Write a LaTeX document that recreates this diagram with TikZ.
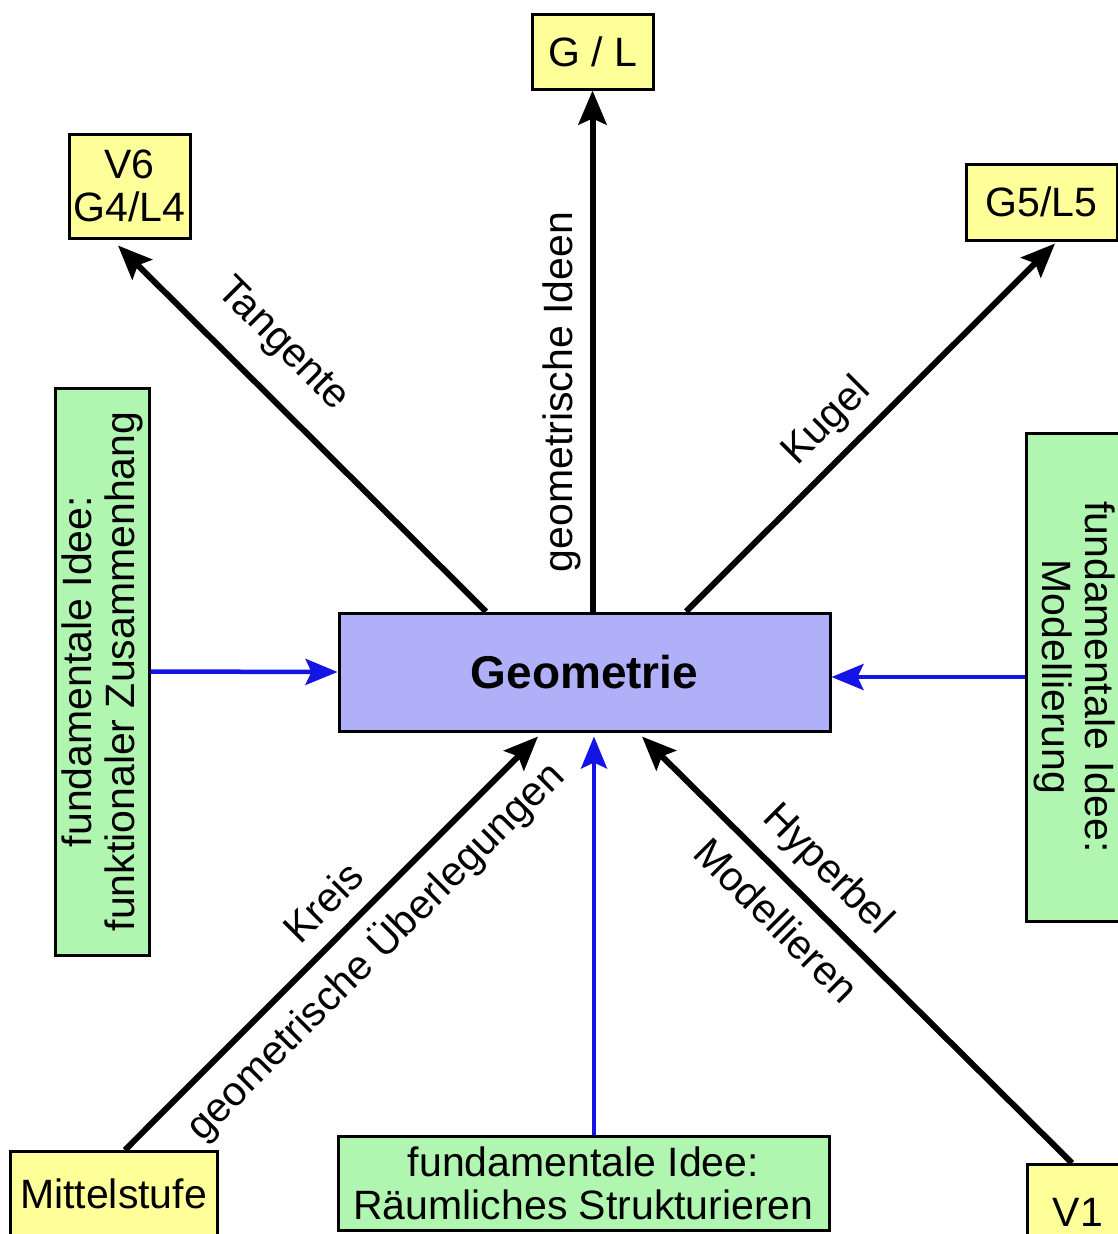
\documentclass[tikz,border=0pt]{standalone}
\usepackage{fontspec}
\setmainfont{Liberation Sans}
\usetikzlibrary{arrows.meta,calc}
\definecolor{yel}{HTML}{FFFF99}
\definecolor{grn}{HTML}{B0F5B0}
\definecolor{vio}{HTML}{B0B0F8}
\definecolor{blu}{HTML}{1414E6}
\begin{document}
\begin{tikzpicture}[x=1pt,y=1pt,
  every node/.style={font=\fontsize{41}{43}\selectfont, inner sep=0pt},
  ybox/.style={draw, line width=3pt, fill=yel},
  grbox/.style={draw, line width=3pt, fill=grn, align=center},
  geobox/.style={draw, line width=3pt, fill=vio, font=\fontsize{46}{50}\selectfont\bfseries},
  blk/.style={line width=6pt, -{Stealth[length=34pt,width=28pt,inset=6pt]}},
  bluarr/.style={blu, line width=4.5pt, -{Stealth[length=32pt,width=26pt,inset=6pt]}}]
\useasboundingbox (0,0) rectangle (1118,-1234);
\fill[white] (0,0) rectangle (1118,-1234);

% boxes
\node[ybox, minimum width=121pt, minimum height=75pt] (gl) at (592.5,-51.5) {G / L};
\node[ybox, minimum width=121pt, minimum height=104pt, align=center] (v6) at (129.5,-186) {V6\\G4/L4};
\node[ybox, minimum width=151pt, minimum height=76pt] (g5) at (1041.5,-202) {G5/L5};
\node[geobox, minimum width=491pt, minimum height=118pt] (geo) at (584.5,-672) {Geometrie};
\node[grbox, rotate=90, minimum width=567pt, minimum height=94pt] (gleft) at (102,-671.5) {fundamentale Idee:\\funktionaler Zusammenhang};
\node[grbox, rotate=-90, minimum width=488pt, minimum height=98pt] (gright) at (1075,-677) {fundamentale Idee:\\Modellierung};
\node[grbox, minimum width=491pt, minimum height=94pt] (gbot) at (583.5,-1183) {fundamentale Idee:\\Räumliches Strukturieren};
\node[ybox, anchor=north, minimum width=207pt, text height=57pt, text depth=43pt] (mit) at (113.5,-1150) {Mittelstufe};
\node[ybox, anchor=north, minimum width=102pt, text height=62pt, text depth=40pt] (v1) at (1078,-1163) {V1};

% black connectors
\draw[blk] (gl.south |- geo.north) -- (gl.south);
\draw[blk] ($(geo.north)+(-98.5,0)$) -- ($(v6.south)+(-11.5,-6)$);
\draw[blk] ($(geo.north)+(101.5,0)$) -- ($(g5.south)+(13.5,-2)$);
\draw[blk] ($(mit.north)+(11.5,0)$) -- ($(geo.south)+(-46.5,-4)$);
\draw[blk] ($(v1.north)+(-6,0)$) -- ($(geo.south)+(57.5,-4)$);

% blue connectors
\draw[bluarr] ($(gbot.north)+(10.5,0)$) -- ($(geo.south)+(9.5,-4)$);
\draw[bluarr] (gleft.south) -- (geo.west);
\draw[bluarr] (gright.south) -- (gright.south -| geo.east);

% labels
\node[rotate=-45] (ltan) at (282,-345) {Tangente};
\node[rotate=90] (lgeo) at (562,-392) {geometrische Ideen};
\node[rotate=45] (lkug) at (827,-422) {Kugel};
\node[rotate=45] (lkre) at (323,-902) {Kreis};
\node[rotate=45] (lueb) at (375,-951) {geometrische Überlegungen};
\node[rotate=-45] (lhyp) at (827,-870) {Hyperbel};
\node[rotate=-45] (lmod) at (777,-920) {Modellieren};
\end{tikzpicture}
\end{document}
